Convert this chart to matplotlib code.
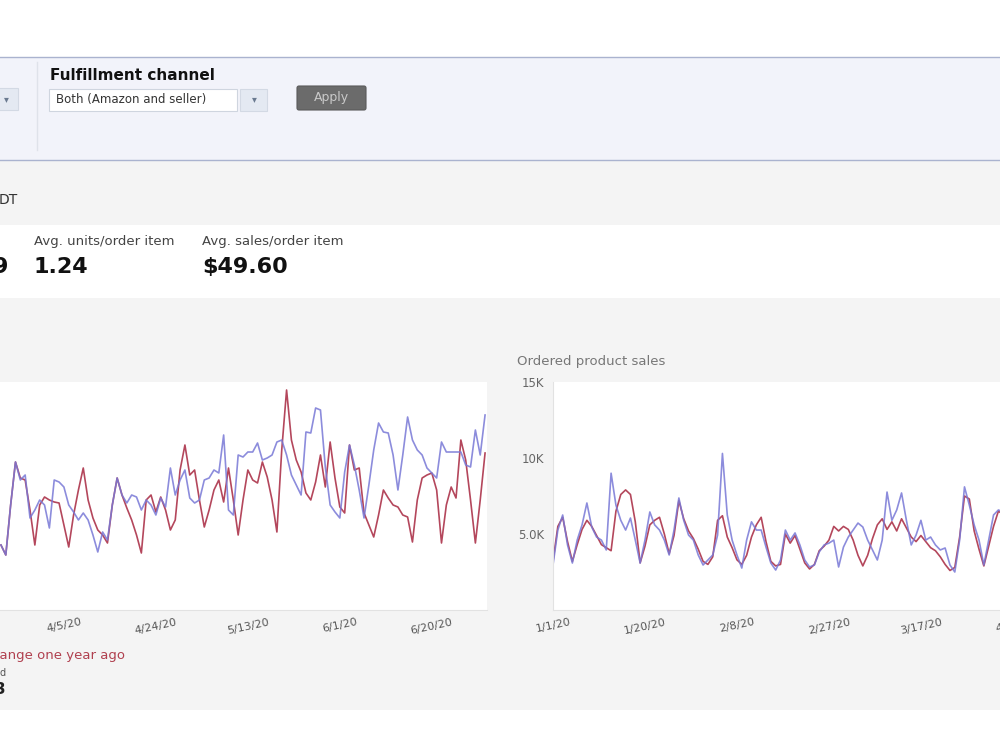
import numpy as np
import pandas as pd
import matplotlib
matplotlib.use("Agg")
import matplotlib.pyplot as plt
from matplotlib.patches import Rectangle, FancyBboxPatch

# --- data (only the visible part of each chart) ---

# left chart: units ordered, daily from 3/23/20
units_start = "2020-03-23"
units_this_year = [65, 55, 105, 148, 130, 135, 92, 100, 110, 105, 82, 130, 128, 123, 105, 98, 90, 97, 90, 75,
                   58, 78, 70, 105, 132, 115, 107, 115, 113, 100, 110, 105, 95, 112, 103, 142, 115, 130, 140, 112,
                   107, 110, 130, 132, 140, 137, 175, 100, 95, 155, 153, 158, 158, 167, 150, 152, 155, 168, 170, 155,
                   135, 125, 115, 178, 177, 202, 200, 143, 105, 98, 92, 138, 165, 145, 120, 92, 125, 160, 187, 178,
                   177, 155, 120, 155, 193, 170, 160, 155, 142, 137, 132, 168, 158, 158, 158, 158, 145, 143, 180, 155,
                   195]
units_last_year = [65, 55, 105, 148, 132, 130, 100, 65, 105, 113, 110, 108, 107, 85, 63, 95, 120, 142, 110, 92,
                   80, 75, 67, 105, 132, 115, 102, 90, 75, 57, 110, 115, 98, 113, 100, 80, 90, 140, 165, 135,
                   140, 110, 83, 100, 120, 130, 108, 142, 110, 75, 110, 140, 130, 127, 148, 133, 110, 78, 160, 220,
                   170, 150, 138, 117, 110, 128, 155, 123, 168, 132, 103, 97, 165, 140, 142, 97, 85, 73, 95, 120,
                   112, 105, 103, 95, 93, 68, 110, 132, 135, 137, 120, 67, 105, 123, 112, 170, 150, 110, 67, 110,
                   157]

# right chart: ordered product sales ($), daily from 1/1/20
sales_start = "2020-01-01"
sales_this_year = [2960, 5260, 6250, 4280, 3090, 4600, 5600, 7040, 5460, 4800, 4600, 3950, 9000, 6900, 5900, 5260,
                   6050, 4600, 3090, 4600, 6450, 5600, 5260, 4600, 3620, 5260, 7370, 5900, 4930, 4600, 3620, 2960,
                   3290, 3620, 4930, 10300, 6250, 4600, 3620, 2760, 4600, 5800, 5260, 5260, 4140, 3090, 2630, 3290,
                   5260, 4600, 5070, 4280, 3290, 2830, 2960, 3820, 4280, 4400, 4600, 2830, 4140, 4800, 5260, 5720,
                   5460, 4600, 3950, 3290, 4600, 7760, 5900, 6580, 7700, 5900, 4280, 4930, 5900, 4600, 4800, 4280,
                   3950, 4080, 2960, 2500, 4600, 8100, 6900, 5600, 4600, 2960, 4600, 6250, 6580, 6450]
sales_last_year = [3200, 5500, 6100, 4500, 3200, 4300, 5300, 5900, 5500, 4900, 4300, 4100, 3900, 6500, 7600, 7900,
                   7600, 5800, 3100, 4200, 5600, 5900, 6100, 5000, 3700, 4900, 7200, 6000, 5200, 4700, 4000, 3200,
                   3000, 3500, 5900, 6200, 4800, 4100, 3300, 3000, 3600, 4800, 5600, 6100, 4500, 3200, 2900, 3000,
                   5000, 4400, 4900, 4000, 3100, 2700, 3000, 3900, 4200, 4600, 5500, 5200, 5500, 5300, 4600, 3600,
                   2900, 3600, 4700, 5600, 6000, 5300, 5800, 5200, 6000, 5400, 4800, 4500, 4900, 4500, 4100, 3900,
                   3500, 3000, 2600, 2800, 4800, 7500, 7300, 5200, 4000, 2900, 4200, 5500, 6500, 6300]

tick_dates = ["2020-01-01", "2020-01-20", "2020-02-08", "2020-02-27", "2020-03-17",
              "2020-04-05", "2020-04-24", "2020-05-13", "2020-06-01", "2020-06-20"]
tick_labels = ["1/1/20", "1/20/20", "2/8/20", "2/27/20", "3/17/20",
               "4/5/20", "4/24/20", "5/13/20", "6/1/20", "6/20/20"]
sales_ticks = [5000, 10000, 15000]
sales_tick_labels = ["5.0K", "10K", "15K"]

BLUE = "#7878d6"
RED = "#b4475c"

fig = plt.figure(figsize=(10, 7.5), dpi=100)

# page background drawn in pixel coordinates
bg = fig.add_axes([0, 0, 1, 1])
bg.set_xlim(0, 1000)
bg.set_ylim(750, 0)
bg.axis("off")

bg.add_patch(Rectangle((0, 0), 1000, 750, facecolor="white", edgecolor="none"))
# filter panel
bg.add_patch(Rectangle((0, 57), 1000, 103, facecolor="#f2f3fa", edgecolor="none"))
bg.plot([0, 1000], [57, 57], color="#aab3cf", lw=1)
bg.plot([0, 1000], [160, 160], color="#aab3cf", lw=1)
bg.plot([37, 37], [62, 150], color="#dfe2ea", lw=1)
bg.add_patch(Rectangle((-2, 88), 20, 22, facecolor="#e4e9f2", edgecolor="#d3d9e4", lw=0.8))
bg.text(6, 99, "▾", fontsize=7, color="#6a7a90", ha="center", va="center")
bg.text(50, 75, "Fulfillment channel", fontsize=11, fontweight="bold", color="#111111", va="center")
bg.add_patch(Rectangle((49, 89), 188, 22, facecolor="white", edgecolor="#cfd5df", lw=0.8))
bg.text(56, 100, "Both (Amazon and seller)", fontsize=8.5, color="#333333", va="center")
bg.add_patch(Rectangle((240, 89), 27, 22, facecolor="#e4e9f2", edgecolor="#d3d9e4", lw=0.8))
bg.text(254, 99, "▾", fontsize=7, color="#6a7a90", ha="center", va="center")
bg.add_patch(FancyBboxPatch((297, 86), 69, 24, boxstyle="round,pad=0,rounding_size=2",
                            facecolor="#6b6b6b", edgecolor="#5a5a5a", lw=0.8))
bg.text(331.5, 98, "Apply", fontsize=9, color="#c9c9c9", ha="center", va="center")

# summary strip (the screenshot is cropped, so some texts are cut at the left edge)
bg.add_patch(Rectangle((0, 161), 1000, 64, facecolor="#f4f4f4", edgecolor="none"))
bg.text(-1, 200, "DT", fontsize=10, color="#333333", va="center")
bg.text(34, 241, "Avg. units/order item", fontsize=9.5, color="#444444", va="center")
bg.text(34, 267, "1.24", fontsize=16, fontweight="bold", color="#111111", va="center")
bg.text(202, 241, "Avg. sales/order item", fontsize=9.5, color="#444444", va="center")
bg.text(202, 267, "$49.60", fontsize=16, fontweight="bold", color="#111111", va="center")
bg.text(-7, 267, "9", fontsize=16, fontweight="bold", color="#111111", va="center")

# chart area
bg.add_patch(Rectangle((0, 298), 1000, 412, facecolor="#f4f4f4", edgecolor="none"))
bg.text(517, 362, "Ordered product sales", fontsize=9.5, color="#777777", va="center")
bg.text(-6, 656, "range one year ago", fontsize=9.5, color="#b0404f", va="center")
bg.text(-1, 673, "d", fontsize=7, color="#555555", va="center")
bg.text(-5, 690, "3", fontsize=11, fontweight="bold", color="#222222", va="center")


def px_axes(left, top, right, bottom):
    return fig.add_axes([left / 1000, 1 - bottom / 750, (right - left) / 1000, (bottom - top) / 750])


x0 = pd.Timestamp("2020-01-01")
x1 = x0 + pd.Timedelta(days=182.4)
ticks = pd.to_datetime(tick_dates)


def style(ax):
    ax.set_facecolor("white")
    for s in ["top", "right"]:
        ax.spines[s].set_visible(False)
    for s in ["left", "bottom"]:
        ax.spines[s].set_color("#e2e2e2")
        ax.spines[s].set_linewidth(0.8)
    ax.set_xlim(x0, x1)
    ax.set_xticks(ticks)
    ax.set_xticklabels(tick_labels, rotation=12, ha="center", fontsize=8, color="#555555")
    ax.tick_params(axis="x", length=0, pad=5)


# left chart (units ordered), mostly off the left edge of the crop
ax1 = px_axes(-396, 382, 487, 610)
style(ax1)
d1 = pd.date_range(units_start, periods=len(units_this_year), freq="D")
ax1.plot(d1, units_last_year, color=RED, lw=1.2)
ax1.plot(d1, units_this_year, color=BLUE, lw=1.2, alpha=0.85)
ax1.set_ylim(0, 228)
ax1.set_yticks([])

# right chart (ordered product sales), runs off the right edge
ax2 = px_axes(553, 382, 1436, 610)
style(ax2)
d2 = pd.date_range(sales_start, periods=len(sales_this_year), freq="D")
ax2.plot(d2, sales_last_year, color=RED, lw=1.2)
ax2.plot(d2, sales_this_year, color=BLUE, lw=1.2, alpha=0.85)
ax2.set_ylim(0, 15000)
ax2.set_yticks(sales_ticks)
ax2.set_yticklabels(sales_tick_labels, fontsize=8.5, color="#666666")
ax2.tick_params(axis="y", length=0, pad=6)

fig.savefig("out.png", dpi=100)
